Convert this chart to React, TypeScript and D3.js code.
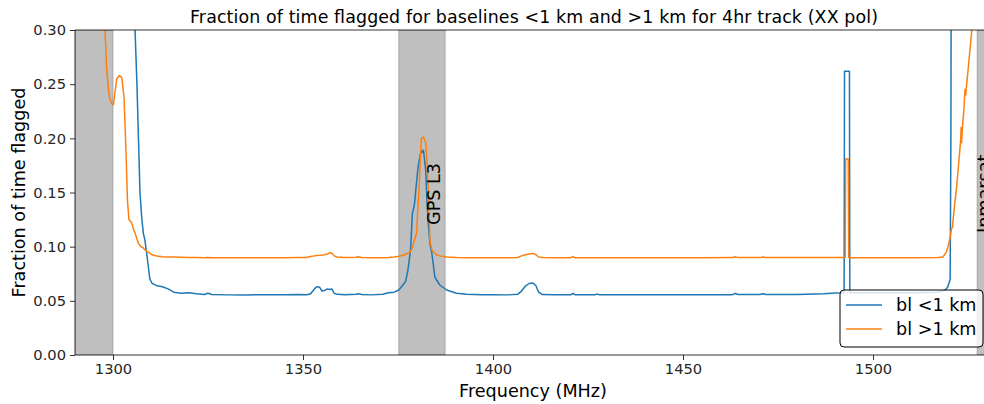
import React, { useEffect, useRef } from 'react';
import * as d3 from 'd3';

// frequency samples (MHz)
const freqs = [
  1290, 1297, 1297.9, 1298.3, 1298.8, 1299.2, 1299.7, 1300.1, 1300.5, 1301, 1301.7, 1302.3, 1302.9,
  1303.4, 1303.8, 1304.2, 1304.9, 1305.5, 1305.8, 1306.3, 1306.7, 1307.1, 1307.6, 1308, 1308.4,
  1309, 1309.7, 1310.3, 1311, 1311.5, 1313, 1314.5, 1316, 1318, 1320, 1322, 1324, 1325, 1326,
  1330, 1335, 1340, 1345, 1349, 1351, 1352, 1353, 1353.6, 1354.4, 1355, 1355.6, 1356.4, 1357,
  1357.6, 1358.2, 1359, 1361, 1364, 1364.5, 1365.5, 1368, 1371, 1372.5, 1374, 1375.2, 1376.3,
  1377, 1377.6, 1378.3, 1378.8, 1379.3, 1379.9, 1380.3, 1380.6, 1381.1, 1381.4, 1381.7, 1382.3,
  1382.6, 1383, 1383.4, 1383.9, 1384.7, 1385.2, 1386, 1387.8, 1390.4, 1393, 1397, 1400, 1404,
  1406.5, 1407.5, 1408.5, 1409.5, 1410.5, 1411.3, 1412, 1413, 1416, 1420.5, 1421, 1421.6, 1427,
  1427.4, 1427.9, 1435, 1445, 1455, 1463, 1463.7, 1464.5, 1470.3, 1471, 1471.8, 1480, 1487, 1490,
  1492.4, 1492.5, 1492.7, 1492.8, 1493.5, 1493.6, 1493.8, 1493.9, 1500, 1510, 1517, 1518.4,
  1519.3, 1519.7, 1520.3, 1520.5, 1520.6, 1520.9, 1521.4, 1522, 1522.7, 1523.1, 1523.2, 1523.3,
  1523.5, 1523.9, 1524.2, 1524.4, 1524.6, 1525.1, 1525.5, 1526, 1527, 1530,
];

// bl <1 km
const shortBl = [
  0.6, 0.6, 0.6, 0.6, 0.6, 0.6, 0.6, 0.6, 0.6, 0.6, 0.6, 0.6, 0.6,
  0.6, 0.6, 0.6, 0.6, 0.4, 0.3, 0.25, 0.2, 0.15, 0.125, 0.112, 0.106,
  0.09, 0.07, 0.066, 0.065, 0.064, 0.063, 0.061, 0.058, 0.057, 0.0575, 0.0565, 0.0558, 0.057, 0.0558,
  0.0555, 0.0555, 0.0556, 0.0556, 0.0558, 0.0556, 0.0565, 0.061, 0.063, 0.0625, 0.059, 0.0595, 0.061, 0.0605,
  0.061, 0.057, 0.056, 0.0556, 0.056, 0.0565, 0.0558, 0.0555, 0.056, 0.0575, 0.058, 0.06, 0.0646,
  0.068, 0.078, 0.097, 0.131, 0.138, 0.16, 0.174, 0.18, 0.189, 0.187, 0.189, 0.17,
  0.143, 0.12, 0.103, 0.094, 0.072, 0.069, 0.0646, 0.06, 0.057, 0.056, 0.0556, 0.0556, 0.0555,
  0.056, 0.059, 0.0635, 0.066, 0.0665, 0.064, 0.058, 0.0558, 0.0556, 0.0557, 0.0568, 0.0557, 0.0557,
  0.0564, 0.0557, 0.0556, 0.0556, 0.0556, 0.0557, 0.0568, 0.0558, 0.0558, 0.0566, 0.0558, 0.0558, 0.0565, 0.0572,
  0.0575, 0.262, 0.262, 0.262, 0.262, 0.262, 0.262, 0.0575, 0.0575, 0.0575, 0.058, 0.059,
  0.061, 0.063, 0.07, 0.2, 0.4, 0.6, 0.6, 0.6, 0.6, 0.6, 0.6, 0.6,
  0.6, 0.6, 0.6, 0.6, 0.6, 0.6, 0.6, 0.6, 0.6, 0.6,
];

// bl >1 km
const longBl = [
  0.6, 0.4, 0.3, 0.266, 0.245, 0.236, 0.232, 0.231, 0.242, 0.255, 0.258, 0.256, 0.238,
  0.189, 0.143, 0.125, 0.122, 0.115, 0.1126, 0.107, 0.103, 0.101, 0.0995, 0.0988, 0.097,
  0.0955, 0.094, 0.0925, 0.0918, 0.0914, 0.0908, 0.0905, 0.0905, 0.0903, 0.09, 0.09, 0.0898, 0.09, 0.0898,
  0.0898, 0.0898, 0.0898, 0.0898, 0.09, 0.09, 0.091, 0.0915, 0.0918, 0.092, 0.0922, 0.0925, 0.093, 0.0945,
  0.094, 0.0915, 0.0905, 0.09, 0.0903, 0.0906, 0.09, 0.0898, 0.0898, 0.09, 0.0905, 0.0912, 0.092,
  0.093, 0.094, 0.0955, 0.099, 0.106, 0.1126, 0.14, 0.159, 0.1985, 0.201, 0.201, 0.196,
  0.18, 0.1495, 0.106, 0.097, 0.094, 0.0923, 0.0915, 0.0905, 0.09, 0.0898, 0.0898, 0.0898, 0.0898,
  0.09, 0.0915, 0.0925, 0.0932, 0.0938, 0.0925, 0.0905, 0.09, 0.0898, 0.0898, 0.0908, 0.0898, 0.0898,
  0.0898, 0.0898, 0.0898, 0.0898, 0.0898, 0.0899, 0.0907, 0.0899, 0.0899, 0.0905, 0.0899, 0.0899, 0.09, 0.09,
  0.09, 0.09, 0.09, 0.181, 0.181, 0.09, 0.09, 0.0898, 0.0898, 0.0898, 0.09, 0.0905,
  0.095, 0.0997, 0.108, 0.113, 0.116, 0.118, 0.136, 0.155, 0.183, 0.2, 0.21, 0.196,
  0.208, 0.226, 0.245, 0.24, 0.248, 0.266, 0.281, 0.3, 0.35, 0.4,
];

// shaded RFI bands [start, end, label]
const bands: [number, number, string][] = [
  [1290, 1300, ''],
  [1375.2, 1387.4, 'GPS L3'],
  [1527.4, 1559, 'Inmarsat'],
];

const xTicks = [1300, 1350, 1400, 1450, 1500];
const yTicks = [0, 0.05, 0.1, 0.15, 0.2, 0.25, 0.3];

const seriesNames = ['bl <1 km', 'bl >1 km'];
const seriesColors = ['#1f77b4', '#ff7f0e'];

const W = 984;
const H = 404;
const m = { left: 75, top: 30, right: 987, bottom: 355 };
const big = 17.6;
const small = 14.7;

const App = () => {
  const ref = useRef<SVGSVGElement>(null);

  useEffect(() => {
    document.body.style.margin = '0';
    const svg = d3.select(ref.current);
    svg.selectAll('*').remove();
    svg.attr('width', W).attr('height', H)
      .style('display', 'block')
      .style('font-family', '"DejaVu Sans", sans-serif');

    const x = d3.scaleLinear().domain([1290, 1530]).range([m.left, m.right]);
    const y = d3.scaleLinear().domain([0, 0.3]).range([m.bottom, m.top]);

    svg.append('clipPath').attr('id', 'plot-clip')
      .append('rect')
      .attr('x', m.left).attr('y', m.top)
      .attr('width', m.right - m.left).attr('height', m.bottom - m.top);

    const plot = svg.append('g').attr('clip-path', 'url(#plot-clip)');

    // bands
    plot.selectAll('.band')
      .data(bands)
      .enter()
      .append('rect')
      .attr('class', 'band')
      .attr('x', d => x(d[0]))
      .attr('y', m.top)
      .attr('width', d => x(d[1]) - x(d[0]))
      .attr('height', m.bottom - m.top)
      .attr('fill', '#808080')
      .attr('fill-opacity', 0.5)
      .attr('stroke', '#808080')
      .attr('stroke-opacity', 0.5)
      .attr('stroke-width', 1);

    const line = d3.line<number>()
      .x((_, i) => x(freqs[i]))
      .y(d => y(d));

    [shortBl, longBl].forEach((vals, k) => {
      plot.append('path')
        .datum(vals)
        .attr('d', line)
        .attr('fill', 'none')
        .attr('stroke', seriesColors[k])
        .attr('stroke-width', 1.5)
        .attr('stroke-linejoin', 'round');
    });

    // band labels
    svg.selectAll('.band-label')
      .data(bands.filter(d => d[2] !== ''))
      .enter()
      .append('text')
      .attr('class', 'band-label')
      .attr('transform', d => d[2] === 'GPS L3'
        ? `translate(440,225) rotate(-90)`
        : `translate(${x(d[0]) + 13},233) rotate(-90)`)
      .attr('font-size', big)
      .attr('fill', '#000')
      .text(d => d[2]);

    // axes
    const xAxis = svg.append('g')
      .attr('transform', `translate(0,${m.bottom})`)
      .call(d3.axisBottom(x).tickValues(xTicks).tickSize(5).tickPadding(4).tickFormat(d3.format('d')));
    const yAxis = svg.append('g')
      .attr('transform', `translate(${m.left},0)`)
      .call(d3.axisLeft(y).tickValues(yTicks).tickSize(5).tickPadding(4).tickFormat(d3.format('.2f')));
    [xAxis, yAxis].forEach(a => {
      a.select('.domain').remove();
      a.selectAll('text').attr('font-size', small).attr('fill', '#262626').style('font-family', '"DejaVu Sans", sans-serif');
      a.selectAll('line').attr('stroke', '#000').attr('stroke-width', 0.8);
    });

    // spines
    svg.append('path')
      .attr('d', `M${m.right},${m.top}H${m.left}V${m.bottom}H${m.right}`)
      .attr('fill', 'none')
      .attr('stroke', '#000')
      .attr('stroke-width', 0.8);

    // titles
    svg.append('text')
      .attr('x', 534)
      .attr('y', 23)
      .attr('text-anchor', 'middle')
      .attr('font-size', 17.4)
      .attr('textLength', 688)
      .text('Fraction of time flagged for baselines <1 km and >1 km for 4hr track (XX pol)');

    svg.append('text')
      .attr('x', 533)
      .attr('y', 397)
      .attr('text-anchor', 'middle')
      .attr('font-size', big)
      .text('Frequency (MHz)');

    svg.append('text')
      .attr('transform', `translate(25,${(m.top + m.bottom) / 2}) rotate(-90)`)
      .attr('text-anchor', 'middle')
      .attr('font-size', big)
      .text('Fraction of time flagged');

    // legend
    const lg = svg.append('g').attr('transform', 'translate(840,290)');
    lg.append('rect')
      .attr('width', 143).attr('height', 57)
      .attr('rx', 4)
      .attr('fill', '#fff').attr('fill-opacity', 0.8)
      .attr('stroke', '#000').attr('stroke-width', 1);
    seriesNames.forEach((name, i) => {
      lg.append('line')
        .attr('x1', 6).attr('x2', 42)
        .attr('y1', 15 + i * 24).attr('y2', 15 + i * 24)
        .attr('stroke', seriesColors[i]).attr('stroke-width', 1.5);
      lg.append('text')
        .attr('x', 56).attr('y', 21 + i * 24)
        .attr('font-size', big)
        .text(name);
    });
  }, []);

  return <svg ref={ref}></svg>;
};

export default App;
